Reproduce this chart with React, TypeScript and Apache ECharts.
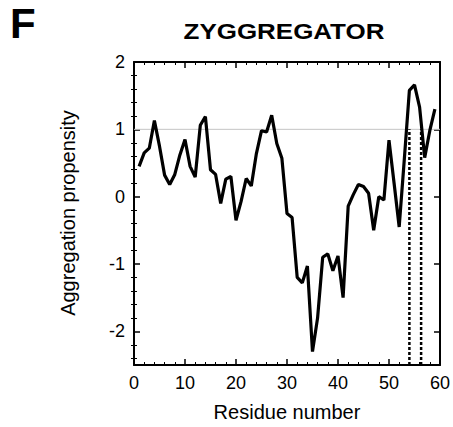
import React, { useEffect, useRef } from "react";
import * as echarts from "echarts";

const residues: number[] = Array.from({ length: 59 }, (_, i) => i + 1);
const propensity: number[] = [
  0.45, 0.65, 0.72, 1.13, 0.75, 0.32, 0.18, 0.33, 0.62, 0.85,
  0.45, 0.29, 1.06, 1.19, 0.40, 0.33, -0.10, 0.26, 0.30, -0.35,
  -0.07, 0.27, 0.16, 0.64, 0.98, 0.96, 1.21, 0.79, 0.57, -0.25,
  -0.31, -1.20, -1.28, -1.03, -2.30, -1.80, -0.90, -0.85, -1.10, -0.88,
  -1.50, -0.14, 0.03, 0.18, 0.15, 0.05, -0.50, 0.00, -0.05, 0.84,
  0.20, -0.45, 0.55, 1.58, 1.66, 1.33, 0.58, 0.98, 1.30,
];
const threshold = 1;
const dashedResidues: number[] = [54, 56.3];
const xMajorTicks: number[] = [0, 10, 20, 30, 40, 50, 60];
const yMajorTicks: number[] = [-2, -1, 0, 1, 2];
const yMinorTicks: number[] = [
  -2.4, -2.2, -1.8, -1.6, -1.4, -1.2, -0.8, -0.6, -0.4, -0.2,
  0.2, 0.4, 0.6, 0.8, 1.2, 1.4, 1.6, 1.8,
];
const xMin = 0, xMax = 60, yMin = -2.5, yMax = 2;

const FONT = "'Liberation Sans', Arial, Helvetica, sans-serif";

export default function App() {
  const ref = useRef<HTMLDivElement>(null);
  useEffect(() => {
    if (!ref.current) return;
    const chart = echarts.init(ref.current, undefined, { renderer: "svg" });
    const black = "#000";
    const baseX = {
      type: "value" as const,
      min: xMin,
      max: xMax,
      interval: 10,
      splitLine: { show: false },
    };
    const baseY = {
      type: "value" as const,
      min: yMin,
      max: yMax,
      splitLine: { show: false },
    };
    chart.setOption({
      animation: false,
      backgroundColor: "#fff",
      grid: { left: 134, top: 62, right: 10, bottom: 59 },
      xAxis: [
        {
          ...baseX,
          position: "bottom",
          axisLine: { show: true, onZero: false, lineStyle: { color: black, width: 2 } },
          axisTick: { show: true, inside: true, length: 6, lineStyle: { color: black, width: 1.5 } },
          minorTick: { show: true, splitNumber: 5, length: 3, lineStyle: { color: black, width: 1 } },
          axisLabel: {
            color: black, fontSize: 18, fontFamily: FONT, margin: 9,
            customValues: xMajorTicks,
          },
          name: "Residue number",
          nameLocation: "middle",
          nameGap: 37,
          nameTextStyle: { color: black, fontSize: 20, fontFamily: FONT },
        },
        {
          ...baseX,
          position: "top",
          axisLine: { show: true, onZero: false, lineStyle: { color: black, width: 2 } },
          axisTick: { show: true, inside: true, length: 6, lineStyle: { color: black, width: 1.5 } },
          minorTick: { show: true, splitNumber: 5, length: 3, lineStyle: { color: black, width: 1 } },
          axisLabel: { show: false },
        },
      ],
      yAxis: [
        {
          ...baseY,
          position: "left",
          axisLine: { show: true, onZero: false, lineStyle: { color: black, width: 2 } },
          axisTick: { show: true, inside: true, length: 6, customValues: yMajorTicks, lineStyle: { color: black, width: 1.5 } },
          axisLabel: { color: black, fontSize: 18, fontFamily: FONT, margin: 9, customValues: yMajorTicks },
        },
        {
          ...baseY,
          position: "left",
          axisLine: { show: false },
          axisTick: { show: true, inside: true, length: 3, customValues: yMinorTicks, lineStyle: { color: black, width: 1 } },
          axisLabel: { show: false },
        },
        {
          ...baseY,
          position: "right",
          axisLine: { show: true, onZero: false, lineStyle: { color: black, width: 2 } },
          axisTick: { show: true, inside: true, length: 6, customValues: yMajorTicks, lineStyle: { color: black, width: 1.5 } },
          axisLabel: { show: false },
        },
        {
          ...baseY,
          position: "right",
          axisLine: { show: false },
          axisTick: { show: true, inside: true, length: 3, customValues: yMinorTicks, lineStyle: { color: black, width: 1 } },
          axisLabel: { show: false },
        },
      ],
      graphic: [
        {
          type: "text", left: 10, top: 2,
          style: { text: "F", font: `bold 42px ${FONT}`, fill: black },
        },
        {
          type: "text", x: 284, y: 31, scaleX: 1.18,
          style: { text: "ZYGGREGATOR", font: `bold 22px ${FONT}`, fill: black, textAlign: "center", textVerticalAlign: "middle" },
        },
        {
          type: "text", x: 68, y: 213, rotation: Math.PI / 2,
          style: { text: "Aggregation propensity", font: `20px ${FONT}`, fill: black, textAlign: "center", textVerticalAlign: "middle" },
        },
      ],
      series: [
        {
          type: "line",
          data: [[xMin, threshold], [xMax, threshold]],
          symbol: "none",
          lineStyle: { color: "#c4c4c4", width: 1 },
          z: 1,
          silent: true,
        },
        ...dashedResidues.map((r) => ({
          type: "line",
          data: [[r, yMin], [r, threshold]],
          symbol: "none",
          lineStyle: { color: black, width: 2.5, type: [3, 2] },
          z: 2,
          silent: true,
        })),
        {
          type: "line",
          data: residues.map((r, i) => [r, propensity[i]]),
          symbol: "none",
          lineStyle: { color: black, width: 3.2 },
          z: 3,
        },
      ],
    });
    return () => chart.dispose();
  }, []);
  return <div ref={ref} style={{ position: "fixed", left: 0, top: 0, width: 453, height: 427 }} />;
}
